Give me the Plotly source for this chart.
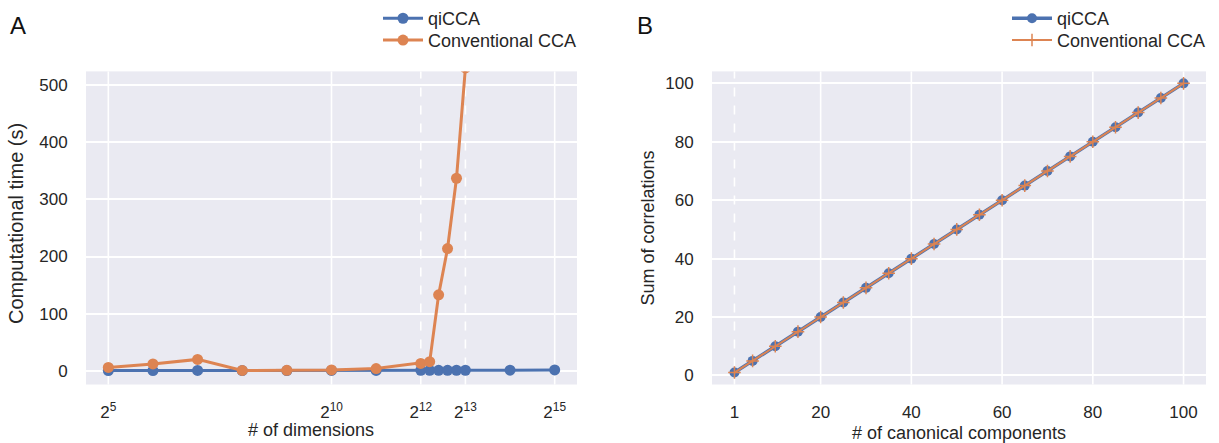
import numpy as np
import plotly.graph_objects as go

# ---------------- data ----------------
# Panel A: computational time vs number of dimensions
dims = [32, 64, 128, 256, 512, 1024, 2048, 4096, 4705, 5405, 6208, 7132, 8192, 16384, 32768]
qicca_time = [0.5, 0.4, 0.6, 0.5, 0.5, 0.6, 0.7, 0.8, 0.8, 0.9, 0.9, 1.0, 1.0, 1.2, 1.5]
cca_dims = [32, 64, 128, 256, 512, 1024, 2048, 4096, 4705, 5405, 6208, 7132, 8192]
cca_time = [6, 12, 20, 0.6, 0.8, 1.5, 4, 13, 16, 133, 214, 337, 530]
a_tickvals = [32, 1024, 4096, 8192, 32768]
a_ticktext = ["2<sup>5</sup>", "2<sup>10</sup>", "2<sup>12</sup>", "2<sup>13</sup>", "2<sup>15</sup>"]
a_yticks = [0, 100, 200, 300, 400, 500]
a_solid_grid = [32, 1024, 32768]
a_dashed_grid = [4096, 8192]

# Panel B: sum of correlations vs number of canonical components
comps = [1, 5, 10, 15, 20, 25, 30, 35, 40, 45, 50, 55, 60, 65, 70, 75, 80, 85, 90, 95, 100]
qicca_sum = [1.0, 5.0, 10.0, 15.0, 20.0, 25.0, 30.0, 35.0, 40.0, 45.0, 50.0,
             55.0, 60.0, 65.0, 70.0, 75.0, 80.0, 85.0, 90.0, 95.0, 100.0]
cca_sum = [1.0, 5.0, 10.0, 15.0, 20.0, 25.0, 30.0, 35.0, 40.0, 45.0, 50.0,
           55.0, 60.0, 65.0, 70.0, 75.0, 80.0, 85.0, 90.0, 95.0, 100.0]
b_tickvals = [1, 20, 40, 60, 80, 100]
b_yticks = [0, 20, 40, 60, 80, 100]
b_solid_grid = [20, 40, 60, 80, 100]
b_dashed_grid = [1]

BLUE = "#4C72B0"
ORANGE = "#DD8452"
BG = "#EAEAF2"
TXT = "#262626"
FONT = "Liberation Sans, Arial, sans-serif"

W, H = 1219, 443


def px(x):
    return x / W


def py(y):
    return 1 - y / H


fig = go.Figure()

# Panel A traces
fig.add_trace(go.Scatter(x=dims, y=qicca_time, mode="lines+markers", name="qiCCA",
                         line=dict(color=BLUE, width=3), marker=dict(size=11, color=BLUE),
                         xaxis="x", yaxis="y", legend="legend"))
fig.add_trace(go.Scatter(x=cca_dims, y=cca_time, mode="lines+markers", name="Conventional CCA",
                         line=dict(color=ORANGE, width=3), marker=dict(size=11, color=ORANGE),
                         xaxis="x", yaxis="y", legend="legend2"))

# Panel B traces
fig.add_trace(go.Scatter(x=comps, y=qicca_sum, mode="lines+markers", name="qiCCA",
                         line=dict(color=BLUE, width=3.5), marker=dict(size=10, color=BLUE),
                         xaxis="x2", yaxis="y2", legend="legend3"))
fig.add_trace(go.Scatter(x=comps, y=cca_sum, mode="lines+markers", name="Conventional CCA",
                         line=dict(color=ORANGE, width=2),
                         marker=dict(size=9, symbol="cross-thin", color=ORANGE,
                                     line=dict(color=ORANGE, width=1.5)),
                         xaxis="x2", yaxis="y2", legend="legend4"))

shapes = []
for v in a_solid_grid:
    shapes.append(dict(type="line", xref="x", yref="y domain", x0=v, x1=v, y0=0, y1=1,
                       line=dict(color="white", width=1.6), layer="below"))
for v in a_dashed_grid:
    shapes.append(dict(type="line", xref="x", yref="y domain", x0=v, x1=v, y0=0, y1=1,
                       line=dict(color="white", width=1.6, dash="dash"), layer="below"))
for v in b_solid_grid:
    shapes.append(dict(type="line", xref="x2", yref="y2 domain", x0=v, x1=v, y0=0, y1=1,
                       line=dict(color="white", width=1.6), layer="below"))
for v in b_dashed_grid:
    shapes.append(dict(type="line", xref="x2", yref="y2 domain", x0=v, x1=v, y0=0, y1=1,
                       line=dict(color="white", width=1.6, dash="dash"), layer="below"))

ydom = [py(384), py(68)]
xcommon = dict(showline=False, zeroline=False, ticks="outside", ticklen=12,
               tickcolor="rgba(0,0,0,0)", tickfont=dict(size=17, color=TXT),
               title_font=dict(size=18, color=TXT))
ycommon = dict(showline=False, zeroline=False, ticks="outside", ticklen=14,
               tickcolor="rgba(0,0,0,0)", tickfont=dict(size=17, color=TXT),
               title_font=dict(size=18, color=TXT), showgrid=True,
               gridcolor="white", gridwidth=1.6)

leg_common = dict(bgcolor="rgba(0,0,0,0)", font=dict(size=18, color=TXT),
                  itemwidth=40, xanchor="left", yanchor="top")

fig.update_layout(
    width=W, height=H,
    showlegend=True,
    margin=dict(l=0, r=0, t=0, b=0),
    paper_bgcolor="white", plot_bgcolor=BG,
    font=dict(family=FONT, color=TXT),
    shapes=shapes,
    xaxis=dict(domain=[px(86), px(577)], type="log",
               range=[4.5 * np.log10(2), 15.5 * np.log10(2)],
               tickvals=a_tickvals, ticktext=a_ticktext, showgrid=False,
               anchor="y", **xcommon),
    yaxis=dict(domain=ydom, range=[-24, 524], tickvals=a_yticks, anchor="x", **ycommon),
    xaxis2=dict(domain=[px(712), px(1206)], range=[-3.95, 104.95],
                tickvals=b_tickvals, showgrid=False,
                title=dict(text="# of canonical components", standoff=8), anchor="y2", **xcommon),
    yaxis2=dict(domain=ydom, range=[-3.1, 104.1], tickvals=b_yticks,
                title=dict(text="Sum of correlations", standoff=5), anchor="x2", **ycommon),
    legend=dict(x=px(378), y=py(-4), **leg_common),
    legend2=dict(x=px(378), y=py(18), **leg_common),
    legend3=dict(x=px(1007), y=py(-4), **leg_common),
    legend4=dict(x=px(1007), y=py(18), **leg_common),
    annotations=[
        dict(text="A", x=px(17.5), y=py(21.5), xref="paper", yref="paper",
             xanchor="center", yanchor="middle", showarrow=False, font=dict(size=24, color="#111")),
        dict(text="B", x=px(645), y=py(21.5), xref="paper", yref="paper",
             xanchor="center", yanchor="middle", showarrow=False, font=dict(size=24, color="#111")),
        dict(text="# of dimensions", x=px(311), y=py(430), xref="paper", yref="paper",
             xanchor="center", yanchor="middle", showarrow=False, font=dict(size=18, color=TXT)),
        dict(text="Computational time (s)", x=px(16), y=py(222), xref="paper", yref="paper",
             xanchor="center", yanchor="middle", textangle=-90, showarrow=False,
             font=dict(size=20, color=TXT)),
    ],
)

fig.write_html("out.html", config={"displayModeBar": False},
               post_script="document.body.style.margin='0px';")
